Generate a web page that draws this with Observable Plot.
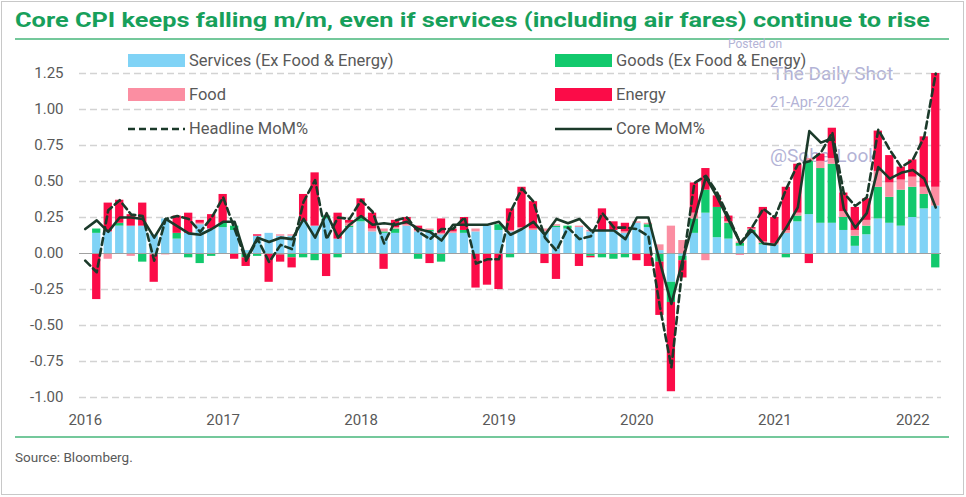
<!DOCTYPE html>
<html><head><meta charset="utf-8">
<script src="https://cdn.jsdelivr.net/npm/d3@7"></script>
<script src="https://cdn.jsdelivr.net/npm/@observablehq/plot@0.6"></script>
<style>
body{margin:0;background:#fff;}
#wrap{position:relative;width:966px;height:497px;overflow:hidden;font-family:Roboto,"Open Sans",sans-serif;background:#fff;}
#frame{position:absolute;left:1px;top:1px;width:963px;height:494px;border:1px solid #c8c8c8;box-sizing:border-box;}
.rule{position:absolute;left:15px;width:934px;height:2px;background:#74c89b;}
#wm span{position:absolute;color:#b3b3d6;white-space:nowrap;line-height:1;}
#chart{position:absolute;left:0;top:45px;}
.leg{position:absolute;font-size:16.5px;color:#595959;white-space:nowrap;line-height:18px;}
.sw{position:absolute;width:57px;height:13px;}
#source{position:absolute;left:15px;top:449px;font-size:13.5px;color:#595959;}
</style></head>
<body>
<div id="wrap">
  <div id="frame"></div>
  <svg style="position:absolute;left:0;top:0" width="966" height="40">
    <text x="15" y="27" font-family="Roboto" font-weight="700" font-size="20.5" fill="#17a05b" textLength="915" lengthAdjust="spacingAndGlyphs">Core CPI keeps falling m/m, even if services (including air fares) continue to rise</text>
  </svg>
  <div class="rule" style="top:38px"></div>
  <div id="wm">
    <span style="left:728px;top:38px;font-size:12px">Posted on</span>
    <span style="left:772px;top:64px;font-size:19px">The Daily Shot</span>
    <span style="left:770px;top:96px;font-size:14.5px">21-Apr-2022</span>
    <span style="left:770px;top:146px;font-size:19px">@SoberLook</span>
  </div>
  <div id="chart"></div>
  <div id="legend"></div>
  <div class="rule" style="top:436px"></div>
  <div id="source">Source: Bloomberg.</div>
</div>
<script>
// x categories: months Jan-2016 .. Mar-2022 (index 0..74); year tick labels
const yearLabels = ["2016","2017","2018","2019","2020","2021","2022"];
const yearTickIndex = [0, 12, 24, 36, 48, 60, 72];
const yTicks = [-1, -0.75, -0.5, -0.25, 0, 0.25, 0.5, 0.75, 1, 1.25];

const seriesNames = ["Services (Ex Food & Energy)", "Goods (Ex Food & Energy)", "Food", "Energy"];
const seriesColors = ["#80d3f6", "#12c96d", "#fb8ea2", "#fb0c48"];
const lineColor = "#1b3a2a";

const services = [null,0.14,0.15,0.19,0.19,0.19,0.13,0.24,0.10,0.14,0.20,0.17,
 0.18,0.16,0.02,0.12,0.14,0.12,0.12,0.22,0.19,0.24,0.10,0.18,
 0.22,0.15,0.14,0.14,0.19,0.15,0.15,0.13,0.14,0.14,0.15,0.19,
 0.16,0.15,0.17,0.16,0.15,0.18,0.17,0.18,0.15,0.16,0.16,0.14,
 0.21,0.18,0.02,-0.20,-0.02,0.14,0.28,0.11,0.10,0.05,0.14,0.06,
 0.06,0.14,0.22,0.27,0.21,0.21,0.16,0.05,0.13,0.24,0.21,0.19,
 0.25,0.31,0.33];
const goods = [null,0.03,0.00,0.02,0.00,-0.06,0.00,0.00,0.04,-0.03,-0.07,-0.02,
 0.03,0.03,-0.03,-0.02,0.00,-0.01,-0.03,-0.03,-0.05,0.02,-0.03,0.01,
 0.03,0.00,0.01,0.03,0.00,-0.04,0.01,-0.06,0.00,0.02,0.00,0.00,
 0.04,-0.03,0.00,0.00,0.00,0.01,0.02,0.00,-0.02,-0.03,-0.04,-0.03,
 0.00,0.02,-0.06,-0.14,-0.03,0.10,0.16,0.21,0.11,0.02,0.02,0.01,
 0.00,-0.03,0.04,0.37,0.38,0.41,0.09,0.07,0.06,0.22,0.18,0.25,
 0.21,0.10,-0.10];
const food = [null,0.00,-0.04,0.00,-0.02,0.00,-0.01,-0.01,0.00,0.00,0.01,0.00,
 0.00,0.00,0.00,0.00,0.00,0.01,0.01,0.00,0.00,0.00,0.00,0.02,
 0.00,0.02,0.02,0.01,0.01,0.01,0.01,0.01,0.01,0.00,0.02,0.00,
 0.00,0.01,0.01,0.01,0.02,0.01,0.00,0.01,0.01,0.00,0.00,0.01,
 0.01,0.01,0.04,0.19,0.09,0.04,-0.05,0.00,0.01,0.01,0.01,0.01,
 0.01,0.02,0.02,0.02,0.05,0.04,0.04,0.04,0.04,0.11,0.10,0.07,
 0.07,0.05,0.13];
const energy = [null,-0.32,0.20,0.16,0.08,0.16,-0.19,0.00,0.12,0.14,0.02,0.10,
 0.20,-0.04,-0.06,0.01,-0.20,-0.05,-0.07,0.19,0.37,-0.16,0.18,0.02,
 0.13,0.11,-0.11,0.05,0.05,0.03,-0.07,0.10,0.02,0.09,-0.24,-0.22,
 -0.25,0.15,0.28,0.19,-0.07,-0.18,0.00,-0.09,-0.01,0.15,0.06,0.06,
 -0.05,-0.09,-0.37,-0.62,-0.12,0.21,0.15,0.08,0.04,-0.01,0.01,0.24,
 0.18,0.30,0.34,-0.07,0.05,0.21,0.13,0.16,0.15,0.28,0.19,0.09,
 0.12,0.35,0.79];
const headline = [-0.05,-0.13,0.30,0.37,0.27,0.26,-0.05,0.24,0.26,0.24,0.15,0.25,
 0.39,0.17,-0.05,0.10,-0.06,0.06,0.03,0.36,0.51,0.10,0.25,0.24,
 0.37,0.29,0.07,0.23,0.25,0.15,0.10,0.17,0.17,0.25,-0.07,-0.04,
 -0.04,0.29,0.45,0.36,0.11,0.02,0.18,0.10,0.12,0.28,0.18,0.18,
 0.17,0.12,-0.37,-0.79,-0.07,0.49,0.54,0.42,0.25,0.07,0.18,0.31,
 0.25,0.45,0.62,0.64,0.70,0.84,0.42,0.33,0.39,0.86,0.72,0.60,
 0.65,0.81,1.25];
const core = [0.17,0.23,0.15,0.25,0.25,0.24,0.11,0.24,0.19,0.14,0.13,0.17,
 0.22,0.22,-0.04,0.11,0.08,0.11,0.10,0.24,0.11,0.28,0.11,0.20,
 0.26,0.20,0.21,0.20,0.22,0.17,0.15,0.09,0.20,0.20,0.20,0.20,
 0.22,0.13,0.17,0.22,0.13,0.24,0.21,0.24,0.16,0.16,0.16,0.10,
 0.25,0.25,-0.06,-0.35,-0.04,0.24,0.53,0.39,0.23,0.07,0.16,0.07,
 0.06,0.18,0.32,0.85,0.77,0.80,0.31,0.18,0.28,0.60,0.52,0.56,
 0.58,0.52,0.32];

const comps = [services, goods, food, energy];
const bars = [];
for (let i = 0; i < headline.length; i++) {
  comps.forEach((arr, k) => {
    if (arr[i] != null) bars.push({i, series: seriesNames[k], value: arr[i]});
  });
}
const lineData = headline.map((h, i) => ({i, headline: h, core: core[i]}));

const chart = Plot.plot({
  width: 966, height: 395,
  marginLeft: 79, marginRight: 25, marginTop: 28, marginBottom: 43,
  x: {domain: [-0.5, headline.length - 0.5], ticks: yearTickIndex,
      tickFormat: d => yearLabels[yearTickIndex.indexOf(d)], tickSize: 0, tickPadding: 17, label: null},
  y: {domain: [-1, 1.25], ticks: yTicks, tickFormat: d => d.toFixed(2), tickSize: 0, tickPadding: 16, label: null},
  color: {domain: seriesNames, range: seriesColors},
  style: {fontFamily: "Roboto, sans-serif", fontSize: "15px", color: "#595959", background: "transparent", overflow: "visible"},
  marks: [
    Plot.ruleY(yTicks.filter(d => d !== 0), {stroke: "#d3d3d3", strokeWidth: 1.3, strokeDasharray: "7,4"}),
    Plot.rectY(bars, {x1: d => d.i - 0.36, x2: d => d.i + 0.36, y: "value", fill: "series"}),
    Plot.ruleY([0], {stroke: "#a0a0a0", strokeWidth: 1.2}),
    Plot.line(lineData, {x: "i", y: "headline", stroke: lineColor, strokeWidth: 2.6, strokeDasharray: "7,4"}),
    Plot.line(lineData, {x: "i", y: "core", stroke: lineColor, strokeWidth: 2.6})
  ]
});
document.getElementById("chart").appendChild(chart);

// legend (two columns, three rows) drawn over the plot area
const legend = document.getElementById("legend");
const legItems = [
  {label: seriesNames[0], color: seriesColors[0], col: 0, row: 0, kind: "box"},
  {label: seriesNames[1], color: seriesColors[1], col: 1, row: 0, kind: "box"},
  {label: seriesNames[2], color: seriesColors[2], col: 0, row: 1, kind: "box"},
  {label: seriesNames[3], color: seriesColors[3], col: 1, row: 1, kind: "box"},
  {label: "Headline MoM%", color: lineColor, col: 0, row: 2, kind: "dash"},
  {label: "Core MoM%", color: lineColor, col: 1, row: 2, kind: "solid"}
];
const colX = [128, 555], rowY = [61, 95, 129];
legItems.forEach(it => {
  const x = colX[it.col], y = rowY[it.row];
  if (it.kind === "box") {
    const s = document.createElement("div");
    s.className = "sw"; s.style.left = x + "px"; s.style.top = (y - 7) + "px"; s.style.background = it.color;
    legend.appendChild(s);
  } else {
    const svgNS = "http://www.w3.org/2000/svg";
    const s = document.createElementNS(svgNS, "svg");
    s.setAttribute("width", 58); s.setAttribute("height", 6);
    s.style.position = "absolute"; s.style.left = x + "px"; s.style.top = (y - 3) + "px";
    const l = document.createElementNS(svgNS, "line");
    l.setAttribute("x1", 0); l.setAttribute("x2", 57); l.setAttribute("y1", 3); l.setAttribute("y2", 3);
    l.setAttribute("stroke", it.color); l.setAttribute("stroke-width", 2.6);
    if (it.kind === "dash") l.setAttribute("stroke-dasharray", "7,4");
    s.appendChild(l); legend.appendChild(s);
  }
  const t = document.createElement("div");
  t.className = "leg"; t.textContent = it.label;
  t.style.left = (x + 61) + "px"; t.style.top = (y - 9) + "px";
  legend.appendChild(t);
});
</script>
</body></html>
